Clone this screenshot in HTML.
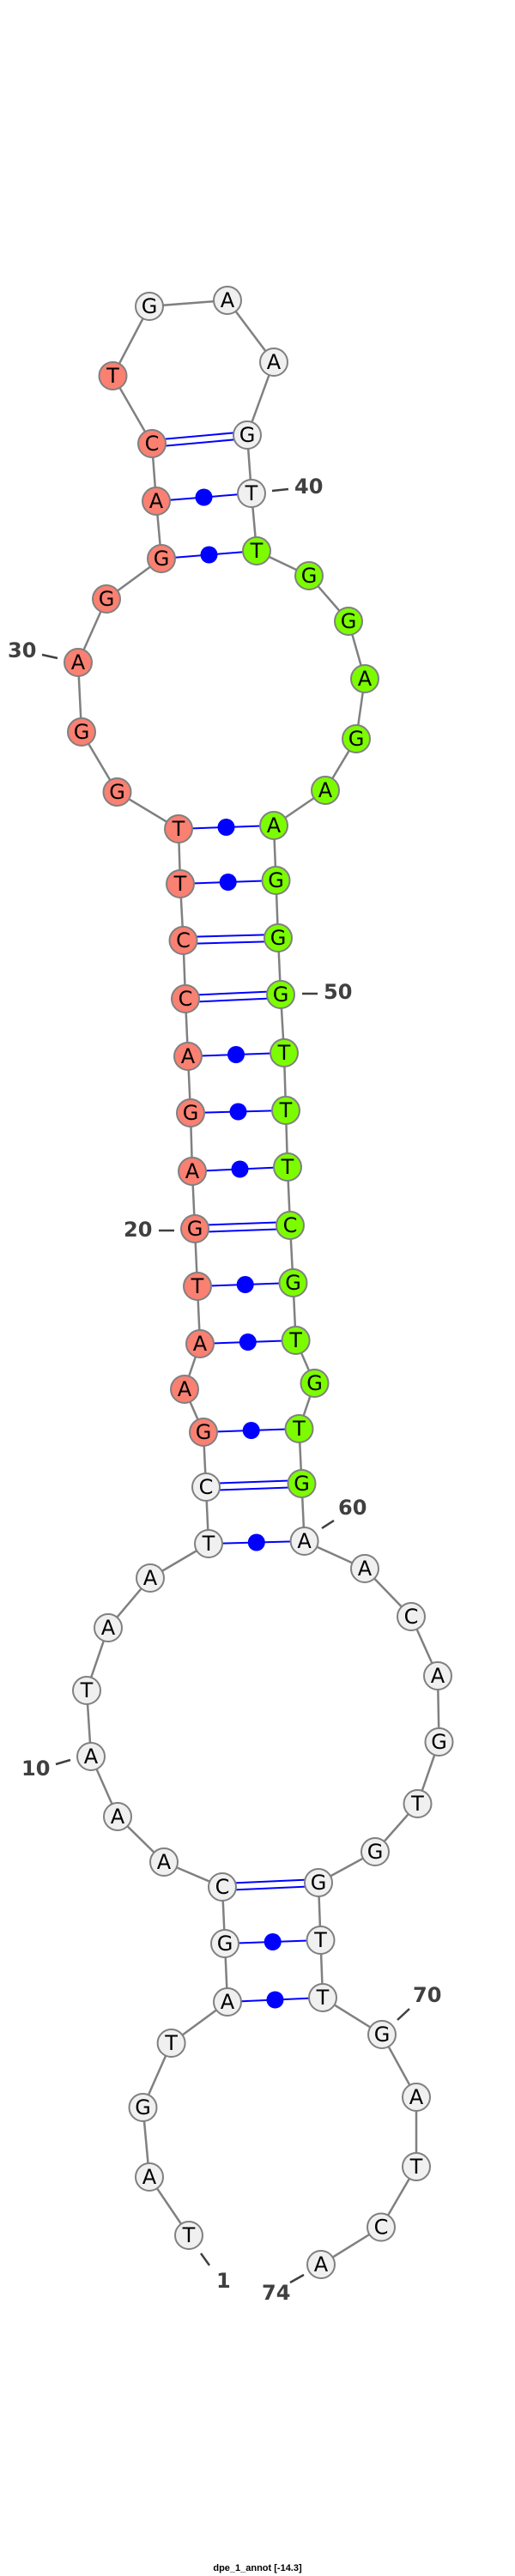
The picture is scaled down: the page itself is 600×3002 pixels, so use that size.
<!DOCTYPE html>
<html><head><meta charset="utf-8"><style>
html,body{margin:0;padding:0;background:#fff;}
svg{display:block;}
.bb{stroke:#808080;stroke-width:2.5;fill:none;}
.pl{stroke:#0000ff;stroke-width:2;}
.nd circle{stroke:#808080;stroke-width:2;}
.nd text{font-family:"DejaVu Sans","Liberation Sans",sans-serif;font-size:24px;text-anchor:middle;dominant-baseline:central;fill:#000;}
.lb{font-family:"DejaVu Sans","Liberation Sans",sans-serif;font-size:24px;font-weight:bold;fill:#404040;}
.tk{stroke:#404040;stroke-width:2.5;}
</style></head><body>
<svg width="600" height="3002" viewBox="0 0 600 3002" xmlns="http://www.w3.org/2000/svg">
<polyline class="bb" points="220,2605 174,2537 166.5,2456 199.6,2381 265,2333 262,2265 259,2199 191,2170 137,2117 106,2047 101,1970 126,1897 175,1839 243,1799 240,1733 237,1669 215,1619 233,1566 230,1499 227,1432 224,1365 222,1297 219,1231 216,1164 213.5,1096 210,1030 208,966 136.5,923 95,853 91,772 124,698 188,651 182,584 177,517 131.5,438 174,357 265,350 319,422 288,507 293,575 299,642 360,671 406,724 425,791 415,861 379,921 319,962 321.5,1026 324,1093 327,1159 331,1227 333,1294 335,1360 338,1428 341.5,1495 344.6,1562 366.5,1612 348.5,1665 351.5,1729 354.6,1796 425,1828 479,1884 510,1953 511.5,2030 486.5,2102 437,2158 371,2194 373.5,2261 376,2328 445,2371 485,2444 485,2525 444,2595.5 374,2639"/>
<g class="pl">
<line x1="265" y1="2333" x2="376" y2="2328"/>
<line x1="262" y1="2265" x2="373.5" y2="2261"/>
<line x1="243" y1="1799" x2="354.6" y2="1796"/>
<line x1="237" y1="1669" x2="348.5" y2="1665"/>
<line x1="233" y1="1566" x2="344.6" y2="1562"/>
<line x1="230" y1="1499" x2="341.5" y2="1495"/>
<line x1="224" y1="1365" x2="335" y2="1360"/>
<line x1="222" y1="1297" x2="333" y2="1294"/>
<line x1="219" y1="1231" x2="331" y2="1227"/>
<line x1="210" y1="1030" x2="321.5" y2="1026"/>
<line x1="208" y1="966" x2="319" y2="962"/>
<line x1="188" y1="651" x2="299" y2="642"/>
<line x1="182" y1="584" x2="293" y2="575"/>
<line x1="259" y1="2195" x2="371" y2="2190"/><line x1="259" y1="2203" x2="371" y2="2198"/>
<line x1="240" y1="1729" x2="351.5" y2="1725"/><line x1="240" y1="1737" x2="351.5" y2="1733"/>
<line x1="227" y1="1428" x2="338" y2="1424"/><line x1="227" y1="1436" x2="338" y2="1432"/>
<line x1="216" y1="1160" x2="327" y2="1155"/><line x1="216" y1="1168" x2="327" y2="1163"/>
<line x1="213.5" y1="1092" x2="324" y2="1089"/><line x1="213.5" y1="1100" x2="324" y2="1097"/>
<line x1="177" y1="513" x2="288" y2="503"/><line x1="177" y1="521" x2="288" y2="511"/>
</g>
<g fill="#0000ff">
<circle cx="320.5" cy="2330.5" r="10"/>
<circle cx="317.7" cy="2263" r="10"/>
<circle cx="298.8" cy="1797.5" r="10"/>
<circle cx="292.7" cy="1667" r="10"/>
<circle cx="288.8" cy="1564" r="10"/>
<circle cx="285.7" cy="1497" r="10"/>
<circle cx="279.5" cy="1362.5" r="10"/>
<circle cx="277.5" cy="1295.5" r="10"/>
<circle cx="275" cy="1229" r="10"/>
<circle cx="265.7" cy="1028" r="10"/>
<circle cx="263.5" cy="964" r="10"/>
<circle cx="243.5" cy="646.5" r="10"/>
<circle cx="237.5" cy="579.5" r="10"/>
</g>
<line class="tk" x1="49" y1="763" x2="67" y2="767"/><text class="lb" x="9" y="766">30</text>
<line class="tk" x1="317" y1="572" x2="336" y2="570"/><text class="lb" x="343" y="575">40</text>
<line class="tk" x1="352" y1="1158" x2="370" y2="1158"/><text class="lb" x="377" y="1164">50</text>
<line class="tk" x1="185" y1="1434" x2="203" y2="1434"/><text class="lb" x="144" y="1441">20</text>
<line class="tk" x1="375" y1="1781" x2="389" y2="1772"/><text class="lb" x="394" y="1765">60</text>
<line class="tk" x1="65" y1="2056" x2="82" y2="2051"/><text class="lb" x="25" y="2069">10</text>
<line class="tk" x1="463" y1="2354" x2="477" y2="2341"/><text class="lb" x="481" y="2333">70</text>
<line class="tk" x1="234" y1="2626" x2="244" y2="2640"/><text class="lb" x="252" y="2666">1</text>
<line class="tk" x1="338" y1="2660" x2="354" y2="2651"/><text class="lb" x="305" y="2680">74</text>
<g class="nd">
<g fill="#f0f0f0">
<circle cx="220" cy="2605" r="16"/><circle cx="174" cy="2537" r="16"/><circle cx="166.5" cy="2456" r="16"/><circle cx="199.6" cy="2381" r="16"/><circle cx="265" cy="2333" r="16"/><circle cx="262" cy="2265" r="16"/><circle cx="259" cy="2199" r="16"/><circle cx="191" cy="2170" r="16"/><circle cx="137" cy="2117" r="16"/><circle cx="106" cy="2047" r="16"/><circle cx="101" cy="1970" r="16"/><circle cx="126" cy="1897" r="16"/><circle cx="175" cy="1839" r="16"/><circle cx="243" cy="1799" r="16"/><circle cx="240" cy="1733" r="16"/>
<circle cx="174" cy="357" r="16"/><circle cx="265" cy="350" r="16"/><circle cx="319" cy="422" r="16"/><circle cx="288" cy="507" r="16"/><circle cx="293" cy="575" r="16"/>
<circle cx="354.6" cy="1796" r="16"/><circle cx="425" cy="1828" r="16"/><circle cx="479" cy="1884" r="16"/><circle cx="510" cy="1953" r="16"/><circle cx="511.5" cy="2030" r="16"/><circle cx="486.5" cy="2102" r="16"/><circle cx="437" cy="2158" r="16"/><circle cx="371" cy="2194" r="16"/><circle cx="373.5" cy="2261" r="16"/><circle cx="376" cy="2328" r="16"/><circle cx="445" cy="2371" r="16"/><circle cx="485" cy="2444" r="16"/><circle cx="485" cy="2525" r="16"/><circle cx="444" cy="2595.5" r="16"/><circle cx="374" cy="2639" r="16"/>
</g>
<g fill="#fa8072">
<circle cx="237" cy="1669" r="16"/><circle cx="215" cy="1619" r="16"/><circle cx="233" cy="1566" r="16"/><circle cx="230" cy="1499" r="16"/><circle cx="227" cy="1432" r="16"/><circle cx="224" cy="1365" r="16"/><circle cx="222" cy="1297" r="16"/><circle cx="219" cy="1231" r="16"/><circle cx="216" cy="1164" r="16"/><circle cx="213.5" cy="1096" r="16"/><circle cx="210" cy="1030" r="16"/><circle cx="208" cy="966" r="16"/><circle cx="136.5" cy="923" r="16"/><circle cx="95" cy="853" r="16"/><circle cx="91" cy="772" r="16"/><circle cx="124" cy="698" r="16"/><circle cx="188" cy="651" r="16"/><circle cx="182" cy="584" r="16"/><circle cx="177" cy="517" r="16"/><circle cx="131.5" cy="438" r="16"/>
</g>
<g fill="#7cfc00">
<circle cx="299" cy="642" r="16"/><circle cx="360" cy="671" r="16"/><circle cx="406" cy="724" r="16"/><circle cx="425" cy="791" r="16"/><circle cx="415" cy="861" r="16"/><circle cx="379" cy="921" r="16"/><circle cx="319" cy="962" r="16"/><circle cx="321.5" cy="1026" r="16"/><circle cx="324" cy="1093" r="16"/><circle cx="327" cy="1159" r="16"/><circle cx="331" cy="1227" r="16"/><circle cx="333" cy="1294" r="16"/><circle cx="335" cy="1360" r="16"/><circle cx="338" cy="1428" r="16"/><circle cx="341.5" cy="1495" r="16"/><circle cx="344.6" cy="1562" r="16"/><circle cx="366.5" cy="1612" r="16"/><circle cx="348.5" cy="1665" r="16"/><circle cx="351.5" cy="1729" r="16"/>
</g>
<text x="220" y="2605">T</text><text x="174" y="2537">A</text><text x="166.5" y="2456">G</text><text x="199.6" y="2381">T</text><text x="265" y="2333">A</text><text x="262" y="2265">G</text><text x="259" y="2199">C</text><text x="191" y="2170">A</text><text x="137" y="2117">A</text><text x="106" y="2047">A</text><text x="101" y="1970">T</text><text x="126" y="1897">A</text><text x="175" y="1839">A</text><text x="243" y="1799">T</text><text x="240" y="1733">C</text>
<text x="237" y="1669">G</text><text x="215" y="1619">A</text><text x="233" y="1566">A</text><text x="230" y="1499">T</text><text x="227" y="1432">G</text><text x="224" y="1365">A</text><text x="222" y="1297">G</text><text x="219" y="1231">A</text><text x="216" y="1164">C</text><text x="213.5" y="1096">C</text><text x="210" y="1030">T</text><text x="208" y="966">T</text><text x="136.5" y="923">G</text><text x="95" y="853">G</text><text x="91" y="772">A</text><text x="124" y="698">G</text><text x="188" y="651">G</text><text x="182" y="584">A</text><text x="177" y="517">C</text><text x="131.5" y="438">T</text>
<text x="174" y="357">G</text><text x="265" y="350">A</text><text x="319" y="422">A</text><text x="288" y="507">G</text><text x="293" y="575">T</text>
<text x="299" y="642">T</text><text x="360" y="671">G</text><text x="406" y="724">G</text><text x="425" y="791">A</text><text x="415" y="861">G</text><text x="379" y="921">A</text><text x="319" y="962">A</text><text x="321.5" y="1026">G</text><text x="324" y="1093">G</text><text x="327" y="1159">G</text><text x="331" y="1227">T</text><text x="333" y="1294">T</text><text x="335" y="1360">T</text><text x="338" y="1428">C</text><text x="341.5" y="1495">G</text><text x="344.6" y="1562">T</text><text x="366.5" y="1612">G</text><text x="348.5" y="1665">T</text><text x="351.5" y="1729">G</text>
<text x="354.6" y="1796">A</text><text x="425" y="1828">A</text><text x="479" y="1884">C</text><text x="510" y="1953">A</text><text x="511.5" y="2030">G</text><text x="486.5" y="2102">T</text><text x="437" y="2158">G</text><text x="371" y="2194">G</text><text x="373.5" y="2261">T</text><text x="376" y="2328">T</text><text x="445" y="2371">G</text><text x="485" y="2444">A</text><text x="485" y="2525">T</text><text x="444" y="2595.5">C</text><text x="374" y="2639">A</text>
</g>
<text x="300" y="2996" text-anchor="middle" font-family="Liberation Sans, sans-serif" font-size="11" font-weight="bold" fill="#000">dpe_1_annot [-14.3]</text>
</svg>
</body></html>
